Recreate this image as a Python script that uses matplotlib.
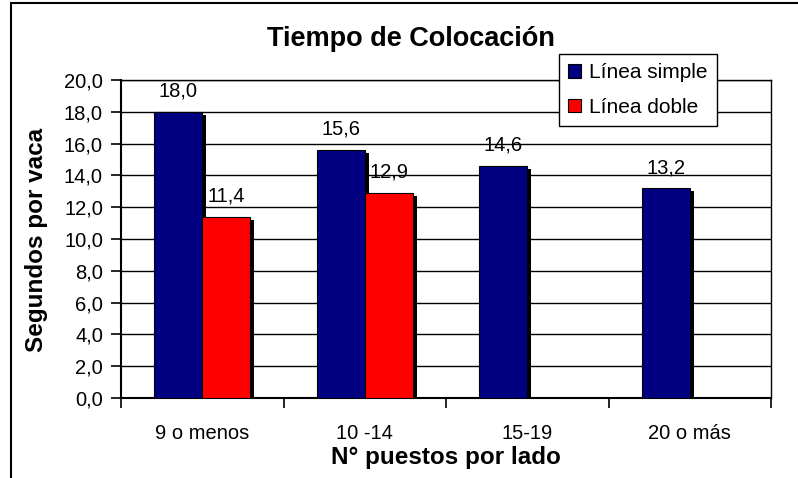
import numpy as np
import matplotlib.pyplot as plt
from matplotlib.lines import Line2D
from matplotlib.patches import Patch
from matplotlib.transforms import ScaledTranslation

plt.rcParams['font.family'] = ['Liberation Sans', 'DejaVu Sans']

categorias = ["9 o menos", "10 -14", "15-19", "20 o más"]
linea_simple = [18.0, 15.6, 14.6, 13.2]
linea_doble = [11.4, 12.9, None, None]
y_ticks = [0, 2, 4, 6, 8, 10, 12, 14, 16, 18, 20]

AZUL = '#000080'
ROJO = '#ff0000'

def coma(v):
    return f"{v:.1f}".replace('.', ',')

fig = plt.figure(figsize=(7.98, 4.78), dpi=100)
ax = fig.add_axes([121/798, 80/478, 650/798, 318/478])

x = np.arange(len(categorias))
w = 0.295
sombra = ax.transData + ScaledTranslation(4/100, -3/100, fig.dpi_scale_trans)

x_doble = [x[i] for i, v in enumerate(linea_doble) if v is not None]
v_doble = [v for v in linea_doble if v is not None]

# sombras negras
for xs, vs in [(x - w/2, linea_simple), (np.array(x_doble) + w/2, v_doble)]:
    bars = ax.bar(xs, vs, w, color='black', zorder=2)
    for p in bars:
        p.set_transform(sombra)

ax.bar(x - w/2, linea_simple, w, color=AZUL, edgecolor='black', lw=0.8, zorder=3)
ax.bar(np.array(x_doble) + w/2, v_doble, w, color=ROJO, edgecolor='black', lw=0.8, zorder=3)

for xi, v in zip(x - w/2, linea_simple):
    ax.annotate(coma(v), (xi, v), xytext=(0, 10.8), textcoords='offset points',
                ha='center', va='baseline', fontsize=14.5, zorder=5)
for xi, v in zip(np.array(x_doble) + w/2, v_doble):
    ax.annotate(coma(v), (xi, v), xytext=(0, 10.8), textcoords='offset points',
                ha='center', va='baseline', fontsize=14.5, zorder=5)

ax.set_xlim(-0.5, len(categorias) - 0.5)
ax.set_ylim(0, 20)
ax.set_yticks(y_ticks)
ax.set_yticklabels([coma(v) for v in y_ticks], fontsize=14.5)
ax.tick_params(axis='y', direction='out', length=7, width=1.2, pad=6)

ax.set_xticks(np.arange(len(categorias) + 1) - 0.5)
ax.set_xticklabels([])
ax.tick_params(axis='x', which='major', direction='out', length=7, width=1.2)
ax.set_xticks(x, minor=True)
ax.set_xticklabels(categorias, minor=True, fontsize=14.5)
ax.tick_params(axis='x', which='minor', length=0, pad=18.5)

ax.grid(axis='y', color='black', lw=1.0, zorder=1)
ax.set_axisbelow(True)
for s in ax.spines.values():
    s.set_color('black')
    s.set_linewidth(1.0)
ax.spines['left'].set_linewidth(1.5)
ax.spines['bottom'].set_linewidth(1.5)

ax.set_ylabel("Segundos por vaca", fontsize=17.5, fontweight='bold')
ax.yaxis.set_label_coords(-0.13, 0.497)
ax.yaxis.label.set_va('center')
ax.set_xlabel("N° puestos por lado", fontsize=17.5, fontweight='bold')
ax.xaxis.set_label_coords(0.5, -0.186)
ax.xaxis.label.set_va('center')

fig.text(411/798, 1 - 46/478, "Tiempo de Colocación", ha='center', va='baseline',
         fontsize=19.5, fontweight='bold')

handles = [Patch(facecolor=AZUL, edgecolor='black', lw=0.8),
           Patch(facecolor=ROJO, edgecolor='black', lw=0.8)]
leg = ax.legend(handles, ["Línea simple", "Línea doble"], loc='upper left',
                bbox_to_anchor=(559/798, 1 - 54/478), bbox_transform=fig.transFigure,
                fontsize=15, frameon=True, fancybox=False, framealpha=1,
                edgecolor='black', handlelength=0.6, handleheight=0.6,
                handletextpad=0.4, labelspacing=0.75, borderpad=0.45,
                borderaxespad=0)
leg.get_frame().set_linewidth(1.0)
leg.set_zorder(10)

# marco exterior del grafico
fig.add_artist(Line2D([11/798, 11/798], [0, 1 - 3/478], color='black', lw=1.5))
fig.add_artist(Line2D([11/798, 1], [1 - 3/478, 1 - 3/478], color='black', lw=1.5))

fig.savefig('out.png', dpi=100)
